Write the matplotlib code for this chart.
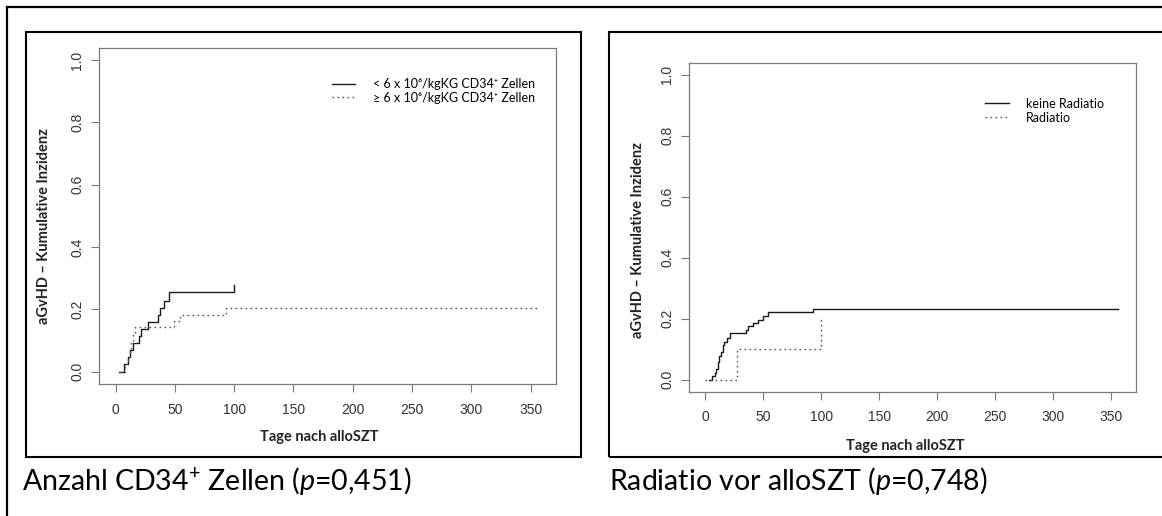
import matplotlib
matplotlib.use('Agg')
import matplotlib.pyplot as plt
from matplotlib.patches import Rectangle
from matplotlib.lines import Line2D

plt.rcParams['font.family'] = ['Lato', 'DejaVu Sans']
plt.rcParams['mathtext.fontset'] = 'custom'
plt.rcParams['mathtext.rm'] = 'Lato'
plt.rcParams['mathtext.it'] = 'Lato:italic'
plt.rcParams['mathtext.bf'] = 'Lato:bold'

# left panel: CD34+ cells
cd34_low_t = [3, 7, 10.5, 12.5, 15, 20, 21.5, 27.5, 35.5, 37, 40.5, 45, 99.6]
cd34_low_v = [0, 0.023, 0.046, 0.068, 0.091, 0.114, 0.136, 0.159, 0.182, 0.205, 0.227, 0.254, 0.279]
cd34_high_t = [3, 8, 10, 12, 13, 14.5, 16, 49, 54, 93, 355.6]
cd34_high_v = [0, 0.024, 0.048, 0.071, 0.095, 0.119, 0.143, 0.162, 0.183, 0.205, 0.205]
cd34_labels = ['< 6 x 10⁶/kgKG CD34⁺ Zellen', '≥ 6 x 10⁶/kgKG CD34⁺ Zellen']

# right panel: radiation
norad_t = [3, 6, 8, 9.5, 11, 12, 13.5, 15, 16, 18.5, 21, 35, 37, 41, 45, 50, 54, 93, 356]
norad_v = [0, 0.011, 0.022, 0.033, 0.056, 0.078, 0.09, 0.112, 0.124, 0.135, 0.151,
           0.163, 0.174, 0.185, 0.196, 0.208, 0.22, 0.231, 0.231]
rad_t = [0, 27.5, 99.5]
rad_v = [0, 0.1, 0.2]
rad_labels = ['keine Radiatio', 'Radiatio']

x_ticks = [0, 50, 100, 150, 200, 250, 300, 350]
y_ticks = [0.0, 0.2, 0.4, 0.6, 0.8, 1.0]

W, H = 1162, 516
fig = plt.figure(figsize=(W / 100, H / 100), dpi=100)


def fx(px):
    return px / W


def fy(py):
    return 1 - py / H


# outer frame (only top and left visible)
fig.add_artist(Line2D([fx(7), fx(7)], [fy(7), fy(520)], color='black', lw=1.6, transform=fig.transFigure))
fig.add_artist(Line2D([fx(7), fx(1170)], [fy(7), fy(7)], color='black', lw=1.6, transform=fig.transFigure))

# panel boxes
for x0, x1 in [(26, 581), (609, 1170)]:
    fig.add_artist(Rectangle((fx(x0), fy(457)), fx(x1) - fx(x0), fy(32) - fy(457),
                             transform=fig.transFigure, fill=False, ec='black', lw=1.5))


def make_axes(l, t, r, b):
    ax = fig.add_axes([fx(l), fy(b), fx(r) - fx(l), (b - t) / H])
    ax.set_xlim(-14.3, 371)
    ax.set_ylim(-0.04, 1.04)
    ax.set_xticks(x_ticks)
    ax.set_yticks(y_ticks)
    ax.set_yticklabels([f'{v:.1f}' for v in y_ticks])
    for s in ax.spines.values():
        s.set_color('#7a7a7a')
        s.set_linewidth(0.9)
    ax.tick_params(direction='out', length=5.5, width=0.8, color='#7a7a7a',
                   labelcolor='#333333', labelsize=10)
    ax.tick_params(axis='x', pad=8)
    ax.tick_params(axis='y', pad=5, labelrotation=90)
    for lab in ax.get_xticklabels() + ax.get_yticklabels():
        lab.set_family('Liberation Sans')
    for lab in ax.get_yticklabels():
        lab.set_va('center')
    ax.set_xlabel('Tage nach alloSZT', fontsize=10.5, fontweight='bold', color='#222222')
    ax.set_ylabel('aGvHD – Kumulative Inzidenz', fontsize=10.5, fontweight='bold', color='#222222')
    return ax


dot = (0, (1.2, 2.4))

ax1 = make_axes(98.7, 47.7, 555.5, 384)
ax1.step(cd34_low_t, cd34_low_v, where='post', color='#1a1a1a', lw=1.0, label=cd34_labels[0])
ax1.step(cd34_high_t, cd34_high_v, where='post', color='#555555', lw=1.0, ls=dot, label=cd34_labels[1])
ax1.xaxis.set_label_coords(0.483, -0.137)
ax1.yaxis.set_label_coords(-0.104, 0.471)
ax1.legend(loc='upper left', bbox_to_anchor=(0.51, 0.91), frameon=False, fontsize=9,
           handlelength=1.9, handletextpad=1.4, labelspacing=0.15, borderpad=0, borderaxespad=0)

ax2 = make_axes(688.8, 62.5, 1135.5, 391.7)
ax2.step(norad_t, norad_v, where='post', color='#1a1a1a', lw=1.0, label=rad_labels[0])
ax2.step(rad_t, rad_v, where='post', color='#555555', lw=1.0, ls=dot, label=rad_labels[1])
ax2.xaxis.set_label_coords(0.4856, -0.145)
ax2.yaxis.set_label_coords(-0.099, 0.461)
ax2.legend(loc='upper left', bbox_to_anchor=(0.663, 0.893), frameon=False, fontsize=9,
           handlelength=1.9, handletextpad=1.4, labelspacing=0.15, borderpad=0, borderaxespad=0)

# captions
fig.text(fx(22), fy(490), 'Anzahl CD34$^{+}$ Zellen ($\\mathit{p}$=0,451)', fontsize=20.5,
         va='baseline', ha='left', color='black')
fig.text(fx(609), fy(490), 'Radiatio vor alloSZT ($\\mathit{p}$=0,748)', fontsize=20.5,
         va='baseline', ha='left', color='black')

fig.savefig('out.png', dpi=100)
